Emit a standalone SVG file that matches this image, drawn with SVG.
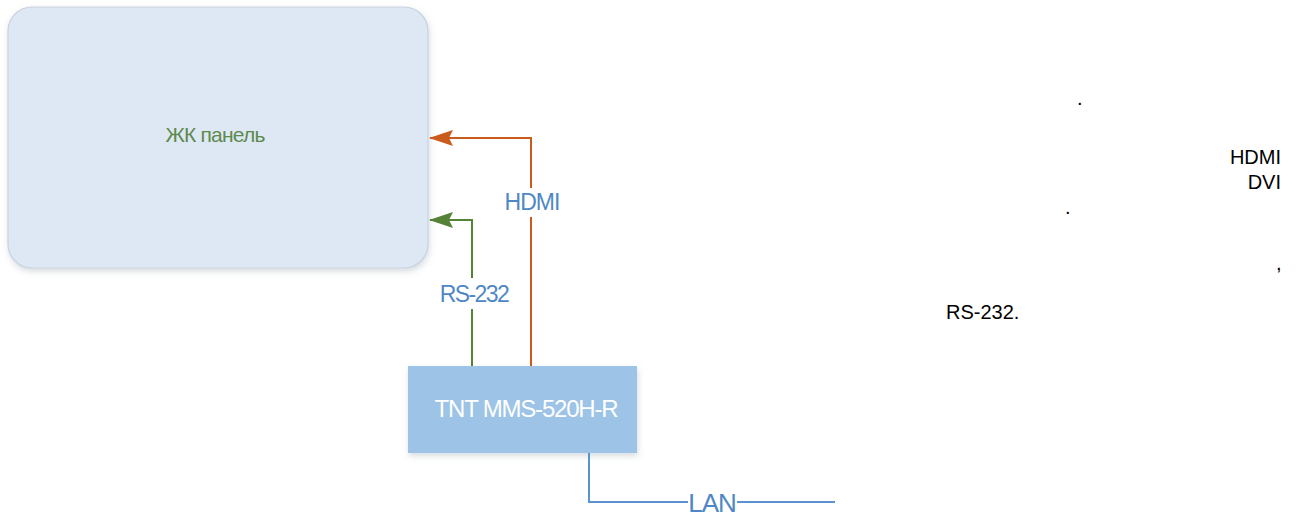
<svg xmlns="http://www.w3.org/2000/svg" width="1299" height="516" viewBox="0 0 1299 516">
<style>
.lbl{font-family:"Liberation Sans",Arial,sans-serif;fill:#4f87c6;font-size:23px;letter-spacing:-1px;text-anchor:middle}
.note{font-family:"Liberation Sans",Arial,sans-serif;fill:#000;font-size:20px}
.conn{fill:none;stroke-width:2}
</style>
<defs>
<filter id="sh" x="-10%" y="-10%" width="120%" height="130%">
<feDropShadow dx="1" dy="3" stdDeviation="3" flood-color="#7a8a9a" flood-opacity="0.3"/>
</filter>
<marker id="arrO" viewBox="0 0 24 16" refX="23" refY="8" markerWidth="24" markerHeight="16" markerUnits="userSpaceOnUse" orient="auto">
<path d="M0,0 L24,8 L0,16 L4,8 z" fill="#c95b1c"/>
</marker>
<marker id="arrG" viewBox="0 0 24 16" refX="23" refY="8" markerWidth="24" markerHeight="16" markerUnits="userSpaceOnUse" orient="auto">
<path d="M0,0 L24,8 L0,16 L4,8 z" fill="#558236"/>
</marker>
</defs>
<rect width="1299" height="516" fill="#fff"/>
<g id="panel">
<rect x="8" y="7" width="420" height="261" rx="24" ry="24" fill="#dde8f4" stroke="#c9d3de" stroke-width="1.2" filter="url(#sh)"/>
<text x="215" y="142" font-family="'Liberation Sans',Arial,sans-serif" font-size="21" letter-spacing="-0.8" fill="#5e8a4e" text-anchor="middle">ЖК панель</text>
</g>
<g id="device">
<rect x="408" y="366" width="229" height="87" fill="#9dc3e6" filter="url(#sh)"/>
<text x="526" y="417" font-family="'Liberation Sans',Arial,sans-serif" font-size="24" letter-spacing="-1.2" fill="#ffffff" text-anchor="middle">TNT MMS-520H-R</text>
</g>
<g id="connectors">
<path class="conn" stroke="#c95b1c" d="M531,366 V217 M531,188 V138 H430" marker-end="url(#arrO)"/>
<path class="conn" stroke="#558236" d="M472,366 V309 M472,278 V220 H430" marker-end="url(#arrG)"/>
<path class="conn" stroke="#5b93cf" d="M589,453 V502 H688 M737,502 H835"/>
<text class="lbl" x="532" y="210">HDMI</text>
<text class="lbl" x="474" y="302" style="letter-spacing:-1.6px">RS-232</text>
<text class="lbl" x="712" y="512" style="font-size:26px">LAN</text>
</g>
<g id="notes">
<text class="note" x="1077" y="105">.</text>
<text class="note" x="1281" y="164" text-anchor="end">HDMI</text>
<text class="note" x="1281" y="189" text-anchor="end">DVI</text>
<text class="note" x="1065" y="214">.</text>
<text class="note" x="1276" y="270">,</text>
<text class="note" x="946" y="319">RS-232.</text>
</g>
</svg>
